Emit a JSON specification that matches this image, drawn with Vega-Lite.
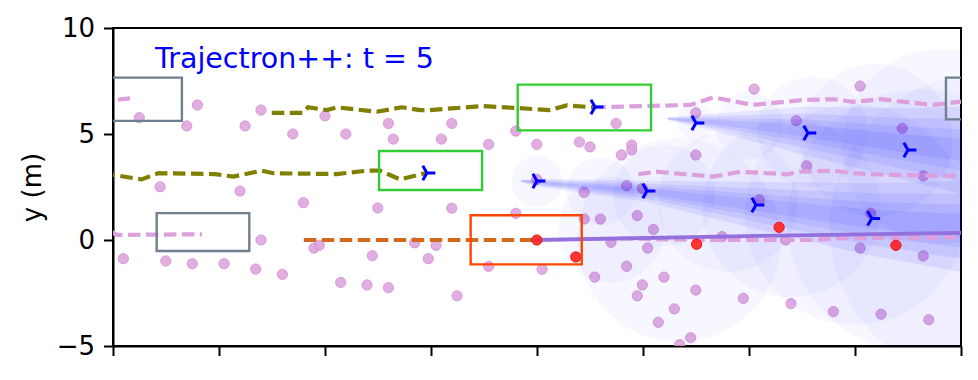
{
  "$schema": "https://vega.github.io/schema/vega-lite/v6.json",
  "width": 848,
  "height": 318,
  "autosize": {"type": "none"},
  "padding": {"left": 113, "top": 28, "right": 17, "bottom": 34},
  "background": "white",
  "config": {
    "view": {"stroke": "black", "strokeWidth": 2},
    "axis": {
      "grid": false,
      "domainColor": "black",
      "domainWidth": 2,
      "tickColor": "black",
      "tickWidth": 2,
      "tickSize": 9.5,
      "labelPadding": 9,
      "labelFont": "DejaVu Sans",
      "labelFontSize": 26,
      "labelColor": "black",
      "titleFont": "DejaVu Sans",
      "titleFontSize": 26,
      "titleFontWeight": "normal",
      "titleColor": "black"
    }
  },
  "datasets": {
    "dots": [
      {"x": 1.24, "y": 5.77}, {"x": 3.98, "y": 6.37}, {"x": 3.48, "y": 5.38}, {"x": 6.98, "y": 6.13},
      {"x": 6.23, "y": 5.38}, {"x": 8.48, "y": 5.0}, {"x": 10.0, "y": 5.86}, {"x": 10.98, "y": 5.0},
      {"x": 12.99, "y": 5.5}, {"x": 13.22, "y": 4.76}, {"x": 2.22, "y": 2.51}, {"x": 5.99, "y": 2.31},
      {"x": 15.98, "y": 5.5}, {"x": 15.49, "y": 4.76}, {"x": 17.72, "y": 4.51}, {"x": 19.0, "y": 5.14},
      {"x": 19.99, "y": 4.51}, {"x": 22.0, "y": 4.62}, {"x": 22.5, "y": 4.39}, {"x": 23.73, "y": 5.5},
      {"x": 24.47, "y": 4.48}, {"x": 24.47, "y": 4.25}, {"x": 23.98, "y": 4.01}, {"x": 27.49, "y": 6.0},
      {"x": 27.49, "y": 4.01}, {"x": 30.24, "y": 7.12}, {"x": 35.24, "y": 7.26}, {"x": 32.23, "y": 5.63},
      {"x": 37.23, "y": 5.27}, {"x": 32.72, "y": 3.5}, {"x": 38.22, "y": 3.02}, {"x": 19.99, "y": 2.86},
      {"x": 24.23, "y": 2.56}, {"x": 24.97, "y": 2.44}, {"x": 22.22, "y": 2.25}, {"x": 8.98, "y": 1.76},
      {"x": 12.49, "y": 1.51}, {"x": 6.98, "y": 0.0}, {"x": 9.48, "y": -0.38}, {"x": 9.73, "y": -0.25},
      {"x": 14.23, "y": -0.13}, {"x": 14.87, "y": -0.88}, {"x": 0.49, "y": -0.88}, {"x": 2.49, "y": -0.99},
      {"x": 3.74, "y": -1.12}, {"x": 5.24, "y": -1.12}, {"x": 6.73, "y": -1.37}, {"x": 7.99, "y": -1.62},
      {"x": 10.74, "y": -2.0}, {"x": 11.98, "y": -2.12}, {"x": 12.99, "y": -2.25}, {"x": 12.23, "y": -0.74},
      {"x": 15.98, "y": 1.5}, {"x": 19.0, "y": 1.26}, {"x": 22.23, "y": 0.99}, {"x": 22.99, "y": 0.99},
      {"x": 24.73, "y": 1.15}, {"x": 25.49, "y": 0.5}, {"x": 23.49, "y": -0.11}, {"x": 25.22, "y": -0.38},
      {"x": 28.73, "y": 0.16}, {"x": 15.24, "y": -0.25}, {"x": 17.72, "y": -1.24}, {"x": 20.24, "y": -1.38},
      {"x": 24.23, "y": -1.24}, {"x": 22.72, "y": -1.75}, {"x": 25.99, "y": -1.75}, {"x": 24.97, "y": -2.12},
      {"x": 24.73, "y": -2.63}, {"x": 16.23, "y": -2.63}, {"x": 27.49, "y": -2.36}, {"x": 26.48, "y": -3.25},
      {"x": 25.72, "y": -3.88}, {"x": 27.25, "y": -4.61}, {"x": 26.73, "y": -4.94}, {"x": 29.73, "y": -2.75},
      {"x": 31.73, "y": 0.0}, {"x": 35.24, "y": -0.38}, {"x": 38.22, "y": -0.75}, {"x": 31.98, "y": -3.0},
      {"x": 33.98, "y": -3.38}, {"x": 36.23, "y": -3.5}, {"x": 38.48, "y": -3.76}, {"x": 30.49, "y": 1.89},
      {"x": 35.74, "y": 1.26}
    ],
    "reds": [
      {"x": 19.99, "y": 0.0}, {"x": 21.83, "y": -0.8}, {"x": 27.53, "y": -0.2},
      {"x": 31.42, "y": 0.6}, {"x": 36.93, "y": -0.25}
    ],
    "blobs": [
      {"x": 20.0, "y": 2.75, "r": 1.2}, {"x": 23, "y": 2.3, "r": 1.6}, {"x": 26, "y": 2.1, "r": 2.4},
      {"x": 29, "y": 1.8, "r": 3.3}, {"x": 32, "y": 1.5, "r": 4.2}, {"x": 35, "y": 1.2, "r": 5.2},
      {"x": 38, "y": 0.9, "r": 6.2}, {"x": 41, "y": 0.6, "r": 7.2},
      {"x": 26.7, "y": 0.0, "r": 4.8}, {"x": 23.5, "y": 0.5, "r": 2.5},
      {"x": 27.5, "y": 5.6, "r": 0.9}, {"x": 30, "y": 5.4, "r": 1.6}, {"x": 33, "y": 5.1, "r": 2.6},
      {"x": 36, "y": 4.7, "r": 3.6}, {"x": 39, "y": 4.4, "r": 4.6}
    ],
    "streaks": [
      {"id": "A", "i": 0, "x": 26.2, "y": 5.72, "w": 0.15}, {"id": "A", "i": 1, "x": 27.69, "y": 5.61, "w": 0.6},
      {"id": "A", "i": 2, "x": 32.41, "y": 5.19, "w": 2.2}, {"id": "A", "i": 3, "x": 37.12, "y": 4.58, "w": 3.3},
      {"id": "A", "i": 4, "x": 40.05, "y": 4.25, "w": 4.1}, {"id": "A", "i": 5, "x": 41, "y": 4.15, "w": 4.3},
      {"id": "B", "i": 0, "x": 19.3, "y": 2.78, "w": 0.15}, {"id": "B", "i": 1, "x": 20.14, "y": 2.7, "w": 0.4},
      {"id": "B", "i": 2, "x": 25.19, "y": 2.3, "w": 1.0}, {"id": "B", "i": 3, "x": 30.33, "y": 1.65, "w": 2.2},
      {"id": "B", "i": 4, "x": 35.75, "y": 0.99, "w": 3.4}, {"id": "B", "i": 5, "x": 40.05, "y": 0.66, "w": 4.3},
      {"id": "B", "i": 6, "x": 41, "y": 0.6, "w": 4.5}
    ],
    "paths": [
      {"id": "o1", "kind": "olive", "i": 0, "x": 7.49, "y": 6.0}, {"id": "o1", "kind": "olive", "i": 1, "x": 8.96, "y": 6.0},
      {"id": "o1", "kind": "olive", "i": 2, "x": 9.2, "y": 6.26}, {"id": "o1", "kind": "olive", "i": 3, "x": 10.08, "y": 6.13},
      {"id": "o1", "kind": "olive", "i": 4, "x": 10.56, "y": 6.26}, {"id": "o1", "kind": "olive", "i": 5, "x": 12.44, "y": 6.05},
      {"id": "o1", "kind": "olive", "i": 6, "x": 13.62, "y": 6.26}, {"id": "o1", "kind": "olive", "i": 7, "x": 14.48, "y": 6.13},
      {"id": "o1", "kind": "olive", "i": 8, "x": 14.95, "y": 6.13}, {"id": "o1", "kind": "olive", "i": 9, "x": 17.47, "y": 6.32},
      {"id": "o1", "kind": "olive", "i": 10, "x": 20.61, "y": 6.13}, {"id": "o1", "kind": "olive", "i": 11, "x": 21.4, "y": 6.35},
      {"id": "o1", "kind": "olive", "i": 12, "x": 22.66, "y": 6.26},
      {"id": "o2", "kind": "olive", "i": 0, "x": -0.5, "y": 3.05}, {"id": "o2", "kind": "olive", "i": 1, "x": 0.01, "y": 3.07},
      {"id": "o2", "kind": "olive", "i": 2, "x": 1.35, "y": 2.86}, {"id": "o2", "kind": "olive", "i": 3, "x": 2.14, "y": 3.15},
      {"id": "o2", "kind": "olive", "i": 4, "x": 4.81, "y": 3.11}, {"id": "o2", "kind": "olive", "i": 5, "x": 5.67, "y": 2.99},
      {"id": "o2", "kind": "olive", "i": 6, "x": 7.01, "y": 3.27}, {"id": "o2", "kind": "olive", "i": 7, "x": 7.56, "y": 3.15},
      {"id": "o2", "kind": "olive", "i": 8, "x": 10.55, "y": 3.11}, {"id": "o2", "kind": "olive", "i": 9, "x": 11.97, "y": 3.27},
      {"id": "o2", "kind": "olive", "i": 10, "x": 12.59, "y": 3.27}, {"id": "o2", "kind": "olive", "i": 11, "x": 13.54, "y": 2.86},
      {"id": "o2", "kind": "olive", "i": 12, "x": 14.56, "y": 3.11}, {"id": "o2", "kind": "olive", "i": 13, "x": 14.81, "y": 3.16},
      {"id": "p1", "kind": "lane", "i": 0, "x": 0.24, "y": 6.62}, {"id": "p1", "kind": "lane", "i": 1, "x": 0.8, "y": 6.68},
      {"id": "p3", "kind": "lane", "i": 0, "x": -0.1, "y": 0.4}, {"id": "p3", "kind": "lane", "i": 1, "x": 0.17, "y": 0.24},
      {"id": "p3", "kind": "lane", "i": 2, "x": 4.2, "y": 0.27},
      {"id": "p2", "kind": "lane", "i": 0, "x": 22.66, "y": 6.26}, {"id": "p2", "kind": "lane", "i": 1, "x": 27.22, "y": 6.37},
      {"id": "p2", "kind": "lane", "i": 2, "x": 28.32, "y": 6.73}, {"id": "p2", "kind": "lane", "i": 3, "x": 30.2, "y": 6.37},
      {"id": "p2", "kind": "lane", "i": 4, "x": 32.5, "y": 6.6}, {"id": "p2", "kind": "lane", "i": 5, "x": 33.98, "y": 6.64},
      {"id": "p2", "kind": "lane", "i": 6, "x": 34.92, "y": 6.52}, {"id": "p2", "kind": "lane", "i": 7, "x": 36.18, "y": 6.64},
      {"id": "p2", "kind": "lane", "i": 8, "x": 38.69, "y": 6.37}, {"id": "p2", "kind": "lane", "i": 9, "x": 39.95, "y": 6.52},
      {"id": "p2", "kind": "lane", "i": 10, "x": 41, "y": 6.55},
      {"id": "p4", "kind": "lane", "i": 0, "x": 24.78, "y": 3.11}, {"id": "p4", "kind": "lane", "i": 1, "x": 25.65, "y": 3.22},
      {"id": "p4", "kind": "lane", "i": 2, "x": 28.32, "y": 2.99}, {"id": "p4", "kind": "lane", "i": 3, "x": 29.58, "y": 3.22},
      {"id": "p4", "kind": "lane", "i": 4, "x": 31.78, "y": 3.1}, {"id": "p4", "kind": "lane", "i": 5, "x": 32.41, "y": 3.22},
      {"id": "p4", "kind": "lane", "i": 6, "x": 33.98, "y": 3.27}, {"id": "p4", "kind": "lane", "i": 7, "x": 34.92, "y": 3.15},
      {"id": "p4", "kind": "lane", "i": 8, "x": 36.5, "y": 3.07}, {"id": "p4", "kind": "lane", "i": 9, "x": 39.95, "y": 3.02},
      {"id": "p4", "kind": "lane", "i": 10, "x": 41, "y": 3.02},
      {"id": "p5", "kind": "lane", "i": 0, "x": 23.92, "y": 0.08}, {"id": "p5", "kind": "lane", "i": 1, "x": 27.69, "y": 0.0},
      {"id": "p5", "kind": "lane", "i": 2, "x": 29.89, "y": 0.0}, {"id": "p5", "kind": "lane", "i": 3, "x": 32.88, "y": 0.0},
      {"id": "p5", "kind": "lane", "i": 4, "x": 34.29, "y": 0.08}, {"id": "p5", "kind": "lane", "i": 5, "x": 39.95, "y": 0.13},
      {"id": "p5", "kind": "lane", "i": 6, "x": 41, "y": 0.14},
      {"id": "c1", "kind": "egohist", "i": 0, "x": 9.0, "y": 0.0}, {"id": "c1", "kind": "egohist", "i": 1, "x": 20.0, "y": 0.0},
      {"id": "m1", "kind": "plan", "i": 0, "x": 19.99, "y": 0.0}, {"id": "m1", "kind": "plan", "i": 1, "x": 30.5, "y": 0.19},
      {"id": "m1", "kind": "plan", "i": 2, "x": 39.95, "y": 0.34}, {"id": "m1", "kind": "plan", "i": 3, "x": 41, "y": 0.36}
    ],
    "boxes": [
      {"kind": "parked", "x": -2, "x2": 3.25, "y": 5.62, "y2": 7.66},
      {"kind": "parked", "x": 2.06, "x2": 6.43, "y": -0.52, "y2": 1.27},
      {"kind": "parked", "x": 39.29, "x2": 43.5, "y": 5.69, "y2": 7.66},
      {"kind": "agent", "x": 12.55, "x2": 17.41, "y": 2.36, "y2": 4.2},
      {"kind": "agent", "x": 19.09, "x2": 25.38, "y": 5.17, "y2": 7.33},
      {"kind": "ego", "x": 16.87, "x2": 22.11, "y": -1.15, "y2": 1.17}
    ],
    "tris": [
      {"x": 14.81, "y": 3.16}, {"x": 22.74, "y": 6.27}, {"x": 20.0, "y": 2.78},
      {"x": 25.19, "y": 2.31}, {"x": 27.5, "y": 5.52}, {"x": 30.33, "y": 1.65},
      {"x": 32.78, "y": 5.05}, {"x": 35.79, "y": 1.02}, {"x": 37.5, "y": 4.25}
    ],
    "label": [
      {"x": 1.98, "y": 8.13, "text": "Trajectron++: t = 5"}
    ]
  },
  "encoding": {
    "x": {
      "field": "x", "type": "quantitative",
      "scale": {"domain": [0, 40], "nice": false, "zero": false},
      "axis": {"values": [0, 5, 10, 15, 20, 25, 30, 35, 40], "labels": false, "title": null}
    },
    "y": {
      "field": "y", "type": "quantitative",
      "scale": {"domain": [-5, 10], "nice": false, "zero": false},
      "axis": {"values": [-5, 0, 5, 10], "title": "y (m)", "titlePadding": 11}
    }
  },
  "layer": [
    {
      "data": {"name": "dots"},
      "mark": {"type": "point", "filled": true, "shape": "circle", "size": 105, "fill": "#DDA0DD", "fillOpacity": 0.85, "stroke": "#d08ed0", "strokeWidth": 1, "strokeOpacity": 0.8, "clip": true}
    },
    {
      "data": {"name": "blobs"},
      "mark": {"type": "point", "filled": true, "shape": "circle", "color": "#0000ff", "opacity": 0.033, "clip": true},
      "encoding": {
        "size": {"field": "r", "type": "quantitative", "scale": {"type": "pow", "exponent": 2, "domain": [0, 10], "range": [0, 179776]}, "legend": null}
      }
    },
    {
      "data": {"name": "streaks"},
      "mark": {"type": "trail", "color": "#0000ff", "opacity": 0.07, "clip": true},
      "encoding": {
        "detail": {"field": "id", "type": "nominal"},
        "order": {"field": "i", "type": "quantitative"},
        "size": {"field": "w", "type": "quantitative", "scale": {"domain": [0, 10], "range": [0, 212]}, "legend": null}
      }
    },
    {
      "data": {"name": "streaks"},
      "mark": {"type": "trail", "color": "#0000ff", "opacity": 0.07, "clip": true},
      "encoding": {
        "detail": {"field": "id", "type": "nominal"},
        "order": {"field": "i", "type": "quantitative"},
        "size": {"field": "w", "type": "quantitative", "scale": {"domain": [0, 10], "range": [0, 152]}, "legend": null}
      }
    },
    {
      "data": {"name": "streaks"},
      "mark": {"type": "trail", "color": "#0000ff", "opacity": 0.07, "clip": true},
      "encoding": {
        "detail": {"field": "id", "type": "nominal"},
        "order": {"field": "i", "type": "quantitative"},
        "size": {"field": "w", "type": "quantitative", "scale": {"domain": [0, 10], "range": [0, 100]}, "legend": null}
      }
    },
    {
      "data": {"name": "streaks"},
      "mark": {"type": "trail", "color": "#0000ff", "opacity": 0.07, "clip": true},
      "encoding": {
        "detail": {"field": "id", "type": "nominal"},
        "order": {"field": "i", "type": "quantitative"},
        "size": {"field": "w", "type": "quantitative", "scale": {"domain": [0, 10], "range": [0, 55]}, "legend": null}
      }
    },
    {
      "data": {"name": "paths"},
      "transform": [{"filter": "datum.kind === 'lane'"}],
      "mark": {"type": "line", "color": "#DDA0DD", "strokeWidth": 4.2, "strokeDash": [12.5, 5.5], "clip": true},
      "encoding": {"detail": {"field": "id", "type": "nominal"}, "order": {"field": "i", "type": "quantitative"}}
    },
    {
      "data": {"name": "paths"},
      "transform": [{"filter": "datum.kind === 'olive'"}],
      "mark": {"type": "line", "color": "#808000", "strokeWidth": 4.2, "strokeDash": [12.5, 5.5], "clip": true},
      "encoding": {"detail": {"field": "id", "type": "nominal"}, "order": {"field": "i", "type": "quantitative"}}
    },
    {
      "data": {"name": "paths"},
      "transform": [{"filter": "datum.kind === 'egohist'"}],
      "mark": {"type": "line", "color": "#D2691E", "strokeWidth": 4.2, "strokeDash": [12.5, 5.5], "clip": true},
      "encoding": {"order": {"field": "i", "type": "quantitative"}}
    },
    {
      "data": {"name": "paths"},
      "transform": [{"filter": "datum.kind === 'plan'"}],
      "mark": {"type": "line", "color": "#9370DB", "strokeWidth": 3.8, "clip": true},
      "encoding": {"order": {"field": "i", "type": "quantitative"}}
    },
    {
      "data": {"name": "reds"},
      "mark": {"type": "point", "filled": true, "shape": "circle", "size": 105, "fill": "#ff2020", "fillOpacity": 0.9, "stroke": "#ee1010", "strokeWidth": 1, "clip": true}
    },
    {
      "data": {"name": "boxes"},
      "mark": {"type": "rect", "filled": false, "fillOpacity": 0, "strokeWidth": 2.4, "clip": true},
      "encoding": {
        "x2": {"field": "x2"},
        "y2": {"field": "y2"},
        "stroke": {"field": "kind", "type": "nominal", "scale": {"domain": ["parked", "agent", "ego"], "range": ["#708090", "#32CD32", "#FF4500"]}, "legend": null}
      }
    },
    {
      "data": {"name": "tris"},
      "mark": {"type": "point", "filled": false, "shape": "M0,0L1,0M0,0L-0.5,-0.866M0,0L-0.5,0.866", "size": 280, "stroke": "#0000ff", "strokeWidth": 3, "opacity": 1, "clip": true}
    },
    {
      "data": {"name": "label"},
      "mark": {"type": "text", "align": "left", "baseline": "alphabetic", "font": "DejaVu Sans", "fontSize": 28.5, "color": "#0000ff"},
      "encoding": {"text": {"field": "text"}}
    }
  ],
  "resolve": {"scale": {"size": "independent"}}
}
